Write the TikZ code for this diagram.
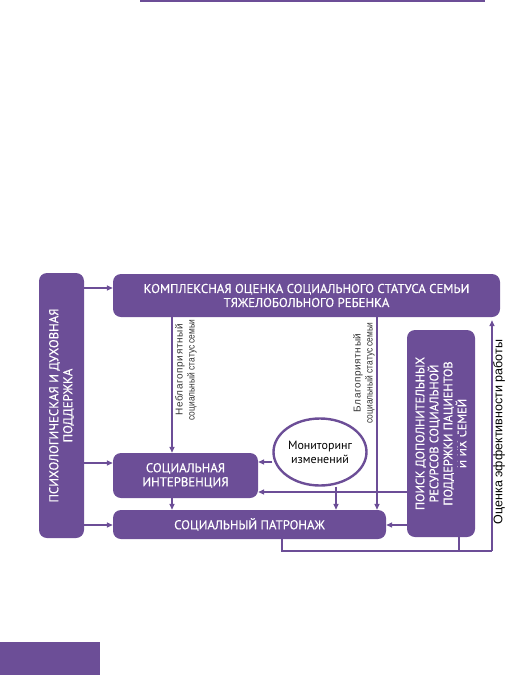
\documentclass[tikz,border=0pt]{standalone}
\usepackage{fontspec}
\setmainfont{PT Sans}
\newfontfamily\boxfont[FakeBold=0.35]{PT Sans}
\newfontfamily\labfont{Liberation Sans}
\newfontfamily\labn[FakeStretch=0.84]{Liberation Sans}
\newfontfamily\labw[LetterSpace=6]{Liberation Sans}
\usetikzlibrary{arrows.meta,shapes.geometric}
\definecolor{vio}{HTML}{6C4E97}
\tikzset{
  box/.style={fill=vio, rounded corners=8pt, text=white, align=center, inner sep=0pt, font=\boxfont\fontsize{12.8}{14}\selectfont},
  arr/.style={draw=vio, line width=1.4pt, -{Triangle[length=6pt,width=5pt]}},
  ln/.style={draw=vio, line width=1.4pt},
  lab/.style={text=black!80, align=center, inner sep=0pt, font=\fontsize{10}{12}\selectfont}
}
\begin{document}
\begin{tikzpicture}[x=1pt,y=-1pt]
\useasboundingbox (0,0) rectangle (508,675);
% decorative elements
\draw[vio, line width=1.5pt] (140,1.2) -- (485,1.2);
\fill[vio] (0,642) rectangle (100,675);
% boxes
\node[box, minimum width=387pt, minimum height=43pt] (top) at (306.5,295.5)
  {КОМПЛЕКСНАЯ ОЦЕНКА СОЦИАЛЬНОГО СТАТУСА СЕМЬИ\\ТЯЖЕЛОБОЛЬНОГО РЕБЕНКА};
\node[box, minimum width=265pt, minimum height=45pt, rotate=90] (left) at (61.5,405.5)
  {ПСИХОЛОГИЧЕСКАЯ И ДУХОВНАЯ\\ПОДДЕРЖКА};
\node[box, minimum width=145pt, minimum height=45pt] (interv) at (185.5,475.5)
  {СОЦИАЛЬНАЯ\\ИНТЕРВЕНЦИЯ};
\node[box, minimum width=273pt, minimum height=29pt] (patr) at (249.5,524.5)
  {СОЦИАЛЬНЫЙ ПАТРОНАЖ};
\node[box, minimum width=207pt, minimum height=68pt, rotate=90, font=\boxfont\fontsize{12.3}{14}\selectfont] (right) at (441,433.5)
  {ПОИСК ДОПОЛНИТЕЛЬНЫХ\\РЕСУРСОВ СОЦИАЛЬНОЙ\\ПОДДЕРЖКИ ПАЦИЕНТОВ\\И ИХ СЕМЕЙ};
\node[ellipse, draw=vio, line width=2.4pt, fill=white, minimum width=93pt, minimum height=67pt, inner sep=0pt, align=center, font=\fontsize{12}{14}\selectfont] (ell) at (320,452)
  {Мониторинг\\изменений};
% helper coordinates
\coordinate (xa) at (172,0);
\coordinate (xb) at (377,0);
\coordinate (xc) at (336,0);
\coordinate (xd) at (282,0);
\coordinate (xe) at (459,0);
\coordinate (xf) at (492,0);
\coordinate (ya) at (0,462);
\coordinate (yb) at (0,492);
\coordinate (yc) at (0,551);
\coordinate (yd) at (0,288);
\coordinate (ye) at (0,463);
\coordinate (yf) at (0,525);
% connectors from left box
\draw[arr] (left.south |- yd) -- (top.west |- yd);
\draw[arr] (left.south |- ye) -- (interv.west |- ye);
\draw[arr] (left.south |- yf) -- (patr.west |- yf);
% from top box
\draw[arr] (top.south -| xa) -- (interv.north -| xa);
\draw[arr] (top.south -| xb) -- (patr.north -| xb);
% monitoring
\draw[arr] (ell.west |- ya) -- (interv.east |- ya);
\draw[arr] (ell.south -| xc) -- (patr.north -| xc);
\draw[arr] (interv.south -| xa) -- (patr.north -| xa);
% right box
\draw[arr] (right.north |- yb) -- (interv.east |- yb);
\draw[arr] (right.north |- yf) -- (patr.east |- yf);
% feedback
\draw[ln] (patr.south -| xd) -- (xd |- yc) -- (xf |- yc);
\draw[ln] (right.south -| xe) -- (xe |- yc);
\draw[arr] (xf |- yc) -- ([yshift=-3pt]top.south -| xf);
% labels
\node[lab, rotate=90] (l1) at (186,370) {{\labw Неблагоприятный}\\{\labn социальный статус семьи}};
\node[lab, rotate=90] (l2) at (364,373) {{\labw Благоприятный}\\{\labn социальный статус семьи}};
\node[rotate=90, font=\labfont\fontsize{12.5}{12.5}\selectfont, inner sep=0pt] (l3) at (499,432) {Оценка эффективности работы};
\end{tikzpicture}
\end{document}
